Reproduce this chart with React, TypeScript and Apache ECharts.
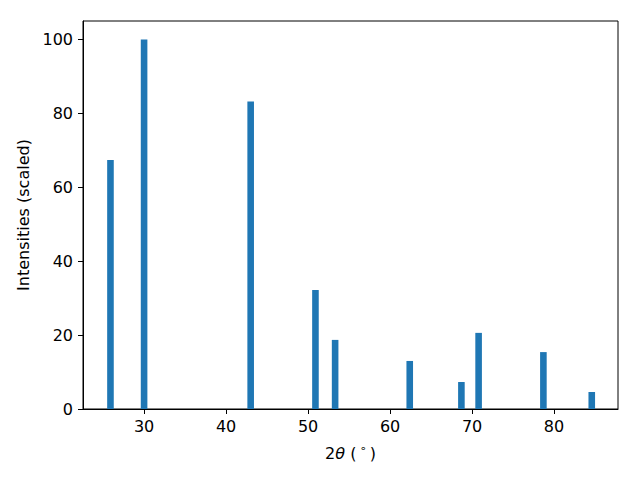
import React, { useEffect, useRef } from "react";
import * as echarts from "echarts";

const twoTheta = [25.9, 30.0, 43.0, 50.9, 53.3, 62.4, 68.7, 70.8, 78.7, 84.6];
const intensities = [67.4, 100, 83.2, 32.2, 18.7, 13.0, 7.3, 20.6, 15.4, 4.6];
const xTicks = [30, 40, 50, 60, 70, 80];
const yTicks = [0, 20, 40, 60, 80, 100];

const FONT = "DejaVu Sans";
const FS = 16;

export default function App() {
  const ref = useRef<HTMLDivElement>(null);
  useEffect(() => {
    if (!ref.current) return;
    const chart = echarts.init(ref.current, null, { renderer: "svg" });
    chart.setOption({
      animation: false,
      backgroundColor: "#ffffff",
      grid: {
        left: 83,
        right: 22,
        top: 21,
        bottom: 71,
        show: true,
        borderColor: "#000000",
        borderWidth: 1,
        backgroundColor: "transparent",
      },
      xAxis: {
        type: "value",
        min: 22.55,
        max: 87.8,
        name: "{n|2}{i|θ}{n| (\u2009}{s|∘}{n|\u2009)}",
        nameLocation: "middle",
        nameGap: 34,
        nameTextStyle: {
          color: "#000",
          fontFamily: FONT,
          fontSize: FS,
          rich: {
            n: { fontFamily: FONT, fontSize: FS, color: "#000" },
            i: { fontFamily: FONT, fontSize: FS, fontStyle: "italic", color: "#000" },
            s: { fontFamily: FONT, fontSize: 11, color: "#000", padding: [0, 0, 9, 0] },
          },
        },
        axisLine: { show: true, onZero: false, lineStyle: { color: "#000", width: 1 } },
        axisTick: {
          show: true,
          inside: false,
          length: 5,
          customValues: xTicks,
          lineStyle: { color: "#000", width: 1 },
        },
        axisLabel: {
          customValues: xTicks,
          margin: 9,
          color: "#000",
          fontFamily: FONT,
          fontSize: FS,
        },
        splitLine: { show: false },
      },
      yAxis: {
        type: "value",
        min: 0,
        max: 105,
        name: "Intensities (scaled)",
        nameLocation: "middle",
        nameGap: 50,
        nameTextStyle: { color: "#000", fontFamily: FONT, fontSize: FS },
        axisLine: { show: true, lineStyle: { color: "#000", width: 1 } },
        axisTick: {
          show: true,
          inside: false,
          length: 5,
          customValues: yTicks,
          lineStyle: { color: "#000", width: 1 },
        },
        axisLabel: {
          customValues: yTicks,
          margin: 10,
          color: "#000",
          fontFamily: FONT,
          fontSize: FS,
        },
        splitLine: { show: false },
      },
      series: [
        {
          type: "bar",
          data: twoTheta.map((x, i) => [x, intensities[i]]),
          barWidth: 6.6,
          itemStyle: { color: "#1f77b4" },
        },
      ],
    });
    return () => chart.dispose();
  }, []);
  return (
    <div
      ref={ref}
      style={{ position: "fixed", left: 0, top: 0, width: 640, height: 480 }}
    />
  );
}
